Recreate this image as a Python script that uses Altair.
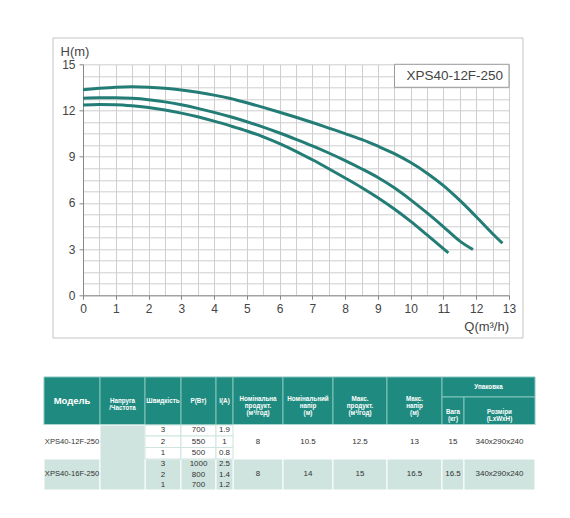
import altair as alt
import pandas as pd

# ---------------- data: pump curves (Q m3/h, H m) ----------------
q_speed3 = [0, 0.5, 1, 1.5, 2, 2.5, 3, 3.5, 4, 4.5, 5, 5.5, 6, 6.5, 7, 7.5, 8, 8.5, 9, 9.5, 10, 10.5, 11, 11.5, 12, 12.5, 12.8]
h_speed3 = [13.35, 13.44, 13.51, 13.54, 13.51, 13.44, 13.33, 13.18, 13.0, 12.78, 12.5, 12.2, 11.89, 11.56, 11.22, 10.86, 10.5, 10.12, 9.68, 9.2, 8.62, 7.93, 7.12, 6.16, 5.1, 4.0, 3.38]
q_speed2 = [0, 0.5, 1, 1.5, 2, 2.5, 3, 3.5, 4, 4.5, 5, 5.5, 6, 6.5, 7, 7.5, 8, 8.5, 9, 9.5, 10, 10.5, 11, 11.5, 11.9]
h_speed2 = [12.8, 12.83, 12.83, 12.79, 12.7, 12.56, 12.37, 12.14, 11.88, 11.59, 11.27, 10.92, 10.54, 10.13, 9.7, 9.24, 8.75, 8.22, 7.65, 6.98, 6.2, 5.35, 4.45, 3.52, 2.97]
q_speed1 = [0, 0.5, 1, 1.5, 2, 2.5, 3, 3.5, 4, 4.5, 5, 5.5, 6, 6.5, 7, 7.5, 8, 8.5, 9, 9.5, 10, 10.5, 11.15]
h_speed1 = [12.35, 12.39, 12.38, 12.31, 12.19, 12.03, 11.83, 11.59, 11.31, 11.0, 10.67, 10.29, 9.85, 9.35, 8.8, 8.22, 7.62, 7.0, 6.33, 5.6, 4.8, 3.92, 2.75]

chart_label = "XPS40-12F-250"
x_title = "Q(m³/h)"
y_title = "H(m)"

# ---------------- data: table ----------------
header_labels = ["Модель", "Напруга\n/Частота", "Швидкість", "P(Вт)", "I(A)",
                 "Номінальна\nпродукт.\n(м³/год)", "Номінальний\nнапір\n(м)",
                 "Макс.\nпродукт.\n(м³/год)", "Макс.\nнапір\n(м)", "Вага\n(кг)", "Розміри\n(LxWxH)"]
group_label = "Упаковка"
models = ["XPS40-12F-250", "XPS40-16F-250"]
speeds = [["3", "2", "1"], ["3", "2", "1"]]
powers = [["700", "550", "500"], ["1000", "800", "700"]]
currents = [["1.9", "1", "0.8"], ["2.5", "1.4", "1.2"]]
nom_flow = ["8", "8"]
nom_head = ["10.5", "14"]
max_flow = ["12.5", "15"]
max_head = ["13", "16.5"]
weight = ["15", "16.5"]
dims = ["340x290x240", "340x290x240"]

# ---------------- layout (page pixels) ----------------
W, H = 426, 231
OX, OY = 83.0, 64.3          # plot origin on page
col_edges = [44, 100, 145, 181, 216, 233, 283, 333, 387, 442, 464, 535]
HT, HM, HB = 377, 397, 425   # header top / split / bottom
model_rows = [[425, 436, 447.5, 459], [459, 469.5, 480, 490]]
TEAL = "#1f8b80"
LT = "#cfe4df"
CURVE = "#237d76"
FONT = "Liberation Sans"


def rx(v):
    return v - OX


def ry(v):
    return v - OY


# ---------------- curves ----------------
rows = []
for name, qs, hs in [("3", q_speed3, h_speed3), ("2", q_speed2, h_speed2), ("1", q_speed1, h_speed1)]:
    for q, h in zip(qs, hs):
        rows.append({"Q": q, "H": h, "speed": name})
curve_df = pd.DataFrame(rows)

tick_x = [i * 0.5 for i in range(27)]
tick_y = [i * 0.75 for i in range(21)]

curves = alt.Chart(curve_df).mark_line(strokeWidth=3, interpolate="monotone", color=CURVE).encode(
    x=alt.X("Q:Q", scale=alt.Scale(domain=[0, 13], nice=False),
            axis=alt.Axis(values=tick_x, title=None, grid=True, gridColor="#cfcfcf", gridWidth=1,
                          domainColor="#888888", tickSize=4, labelPadding=4,
                          tickColor={"condition": {"test": "datum.value % 1 === 0", "value": "#888888"}, "value": "transparent"},
                          labelExpr="datum.value % 1 === 0 ? '' + datum.value : ''",
                          labelFont=FONT, labelFontSize=12, labelColor="#444444",
                          labelFlush=False, labelOverlap=False)),
    y=alt.Y("H:Q", scale=alt.Scale(domain=[0, 15], nice=False),
            axis=alt.Axis(values=tick_y, title=None, grid=True, gridColor="#cfcfcf", gridWidth=1,
                          domainColor="#888888", tickSize=4, labelPadding=4,
                          tickColor={"condition": {"test": "datum.value % 3 === 0", "value": "#888888"}, "value": "transparent"},
                          labelExpr="datum.value % 3 === 0 ? '' + datum.value : ''",
                          labelFont=FONT, labelFontSize=12, labelColor="#444444",
                          labelFlush=False, labelOverlap=False)),
    detail="speed:N",
)

one = pd.DataFrame({"k": [0]})

frame = alt.Chart(one).mark_rect(fillOpacity=0, stroke="#c4c4c4", strokeWidth=1).encode(
    x=alt.value(rx(53)), x2=alt.value(rx(523)), y=alt.value(ry(38)), y2=alt.value(ry(338)))

legend_box = alt.Chart(one).mark_rect(fill="white", stroke="#999999", strokeWidth=1).encode(
    x=alt.value(rx(394.5)), x2=alt.value(W), y=alt.value(0), y2=alt.value(23))
legend_text = alt.Chart(one).mark_text(font=FONT, fontSize=13.5, color="#444444", align="center", baseline="middle").encode(
    x=alt.value((rx(394.5) + W) / 2 + 3), y=alt.value(12), text=alt.value(chart_label))

ytitle = alt.Chart(one).mark_text(font=FONT, fontSize=13, color="#444444", align="left", baseline="alphabetic").encode(
    x=alt.value(rx(60.5)), y=alt.value(ry(56.3)), text=alt.value(y_title))
xtitle = alt.Chart(one).mark_text(font=FONT, fontSize=13, color="#444444", align="right", baseline="alphabetic").encode(
    x=alt.value(W), y=alt.value(ry(331.5)), text=alt.value(x_title))

# ---------------- table cells ----------------
cells = []


def add_cell(x0, x1, y0, y1, fill, stroke):
    cells.append({"x0": rx(x0), "x1": rx(x1), "y0": ry(y0), "y1": ry(y1), "fill": fill, "stroke": stroke})


for i in range(9):
    add_cell(col_edges[i], col_edges[i + 1], HT, HB, TEAL, "#86c6bd")
add_cell(col_edges[9], col_edges[11], HT, HM, TEAL, "#86c6bd")
add_cell(col_edges[9], col_edges[10], HM, HB, TEAL, "#86c6bd")
add_cell(col_edges[10], col_edges[11], HM, HB, TEAL, "#86c6bd")

for m, rws in enumerate(model_rows):
    fill = "white" if m == 0 else LT
    add_cell(col_edges[0], col_edges[1], rws[0], rws[3], fill, "white")
    for c in range(5, 11):
        add_cell(col_edges[c], col_edges[c + 1], rws[0], rws[3], fill, "white")
    if m == 1:
        for c in range(2, 5):
            add_cell(col_edges[c], col_edges[c + 1], rws[0], rws[3], LT, "white")
add_cell(col_edges[1], col_edges[2], model_rows[0][0], model_rows[1][3], LT, "white")
for r in range(3):
    for c in range(2, 5):
        add_cell(col_edges[c], col_edges[c + 1], model_rows[0][r], model_rows[0][r + 1], "white", LT)

cells_df = pd.DataFrame(cells)
table_rects = alt.Chart(cells_df).mark_rect(strokeWidth=1).encode(
    x=alt.X("x0:Q", scale=None, axis=None), x2="x1:Q",
    y=alt.Y("y0:Q", scale=None, axis=None), y2="y1:Q",
    fill=alt.Fill("fill:N", scale=None), stroke=alt.Stroke("stroke:N", scale=None))

# header texts
htexts = []
for i, lab in enumerate(header_labels[:9]):
    cx = (col_edges[i] + col_edges[i + 1]) / 2
    fs = 9.5 if i == 0 else 6.3
    cy = (HT + HB) / 2 if i < 5 else (HT + HB) / 2 - 1.5
    htexts.append({"x": rx(cx), "y": ry(cy), "t": lab, "fs": fs})
htexts.append({"x": rx((col_edges[9] + col_edges[11]) / 2), "y": ry((HT + HM) / 2), "t": group_label, "fs": 6.3})
htexts.append({"x": rx((col_edges[9] + col_edges[10]) / 2), "y": ry((HM + HB) / 2 + 1), "t": header_labels[9], "fs": 6.3})
htexts.append({"x": rx((col_edges[10] + col_edges[11]) / 2), "y": ry((HM + HB) / 2 + 1), "t": header_labels[10], "fs": 6.3})
htext_df = pd.DataFrame(htexts)
header_text = alt.Chart(htext_df).mark_text(font=FONT, fontWeight="bold", color="white", lineBreak="\n",
                                            lineHeight=7, align="center", baseline="middle").encode(
    x=alt.X("x:Q", scale=None, axis=None), y=alt.Y("y:Q", scale=None, axis=None),
    text="t:N", size=alt.Size("fs:Q", scale=None))

# body texts
btexts = []
for m, rws in enumerate(model_rows):
    mid = (rws[0] + rws[3]) / 2
    btexts.append({"x": rx((col_edges[0] + col_edges[1]) / 2), "y": ry(mid), "t": models[m], "fs": 7.6})
    for r in range(3):
        cy = (rws[r] + rws[r + 1]) / 2
        for c, arr in [(2, speeds), (3, powers), (4, currents)]:
            btexts.append({"x": rx((col_edges[c] + col_edges[c + 1]) / 2), "y": ry(cy), "t": arr[m][r], "fs": 8})
    for c, arr in [(5, nom_flow), (6, nom_head), (7, max_flow), (8, max_head), (9, weight), (10, dims)]:
        btexts.append({"x": rx((col_edges[c] + col_edges[c + 1]) / 2), "y": ry(mid), "t": arr[m], "fs": 8})
btext_df = pd.DataFrame(btexts)
body_text = alt.Chart(btext_df).mark_text(font=FONT, color="#333333", align="center", baseline="middle").encode(
    x=alt.X("x:Q", scale=None, axis=None), y=alt.Y("y:Q", scale=None, axis=None),
    text="t:N", size=alt.Size("fs:Q", scale=None))

chart = alt.layer(
    frame, curves, legend_box, legend_text, ytitle, xtitle, table_rects, header_text, body_text
).resolve_scale(
    x="independent", y="independent", size="independent"
).properties(
    width=W, height=H,
    autosize=alt.AutoSizeParams(type="none"),
    padding={"left": 75, "top": 56.3, "right": 39, "bottom": 208},
    background="white",
).configure_view(stroke=None)

chart.save("out.html", embed_options={"renderer": "svg", "actions": False})
